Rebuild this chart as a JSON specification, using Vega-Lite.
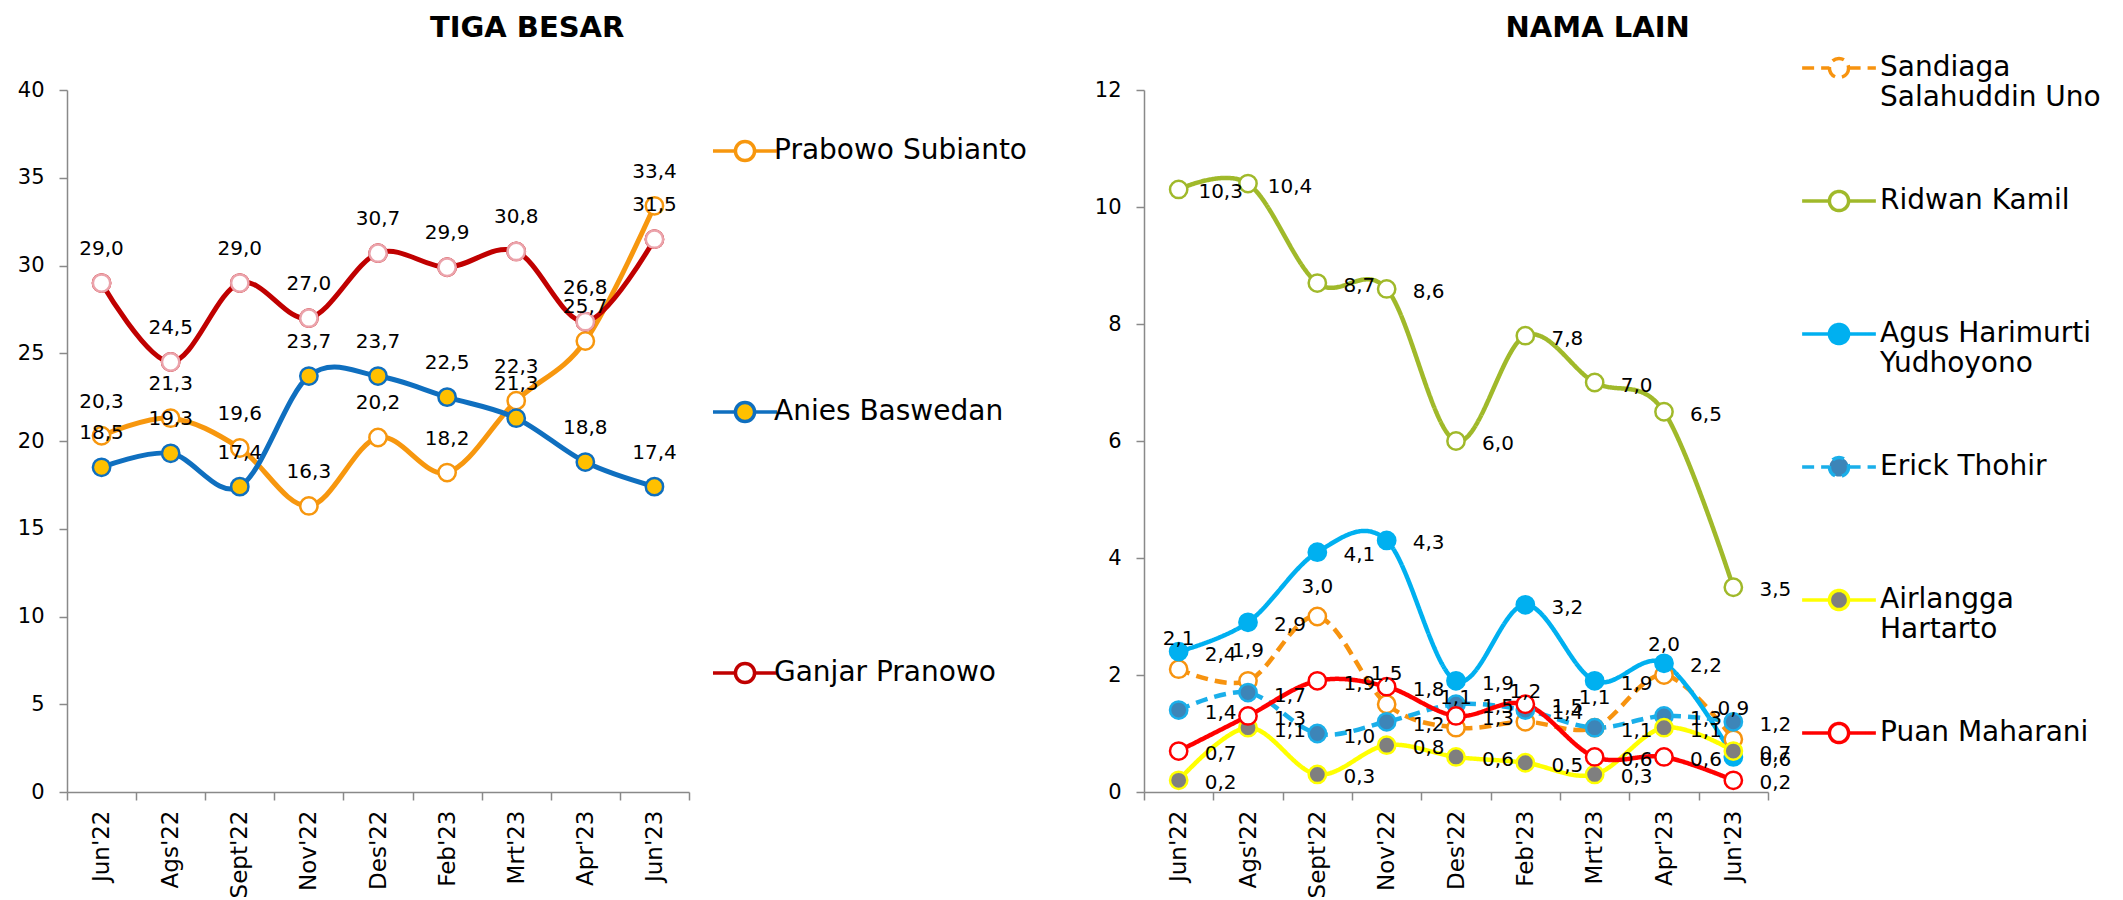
{
  "$schema": "https://vega.github.io/schema/vega-lite/v6.json",
  "background": "white",
  "padding": {"left": 17, "top": 14, "right": 5, "bottom": 0},
  "config": {
    "locale": {"number": {"decimal": ",", "thousands": ".", "grouping": [3], "currency": ["", ""]}},
    "view": {"stroke": null},
    "font": "DejaVu Sans",
    "axis": {"grid": false, "domainColor": "#898989", "tickColor": "#898989", "domainWidth": 1.5, "tickWidth": 1.5, "labelColor": "#000000", "labelFont": "DejaVu Sans", "title": null},
    "axisX": {"labelFontSize": 23, "labelAngle": -90, "tickSize": 8, "labelPadding": 10, "tickBand": "extent"},
    "axisY": {"labelFontSize": 21, "tickSize": 8, "labelPadding": 15},
    "legend": {"labelFont": "DejaVu Sans", "labelFontSize": 28, "labelColor": "#000000", "labelLimit": 500, "symbolSize": 4100, "symbolStrokeWidth": 3.5, "title": null},
    "title": {"fontSize": 29, "fontWeight": "bold", "font": "DejaVu Sans", "color": "#000000", "frame": "bounds", "anchor": "middle"}
  },
  "datasets": {
    "besar": [
      {"bulan": "Jun'22", "nama": "Prabowo Subianto", "nilai": 20.3},
      {"bulan": "Ags'22", "nama": "Prabowo Subianto", "nilai": 21.3},
      {"bulan": "Sept'22", "nama": "Prabowo Subianto", "nilai": 19.6},
      {"bulan": "Nov'22", "nama": "Prabowo Subianto", "nilai": 16.3},
      {"bulan": "Des'22", "nama": "Prabowo Subianto", "nilai": 20.2},
      {"bulan": "Feb'23", "nama": "Prabowo Subianto", "nilai": 18.2},
      {"bulan": "Mrt'23", "nama": "Prabowo Subianto", "nilai": 22.3},
      {"bulan": "Apr'23", "nama": "Prabowo Subianto", "nilai": 25.7},
      {"bulan": "Jun'23", "nama": "Prabowo Subianto", "nilai": 33.4},
      {"bulan": "Jun'22", "nama": "Anies Baswedan", "nilai": 18.5},
      {"bulan": "Ags'22", "nama": "Anies Baswedan", "nilai": 19.3},
      {"bulan": "Sept'22", "nama": "Anies Baswedan", "nilai": 17.4},
      {"bulan": "Nov'22", "nama": "Anies Baswedan", "nilai": 23.7},
      {"bulan": "Des'22", "nama": "Anies Baswedan", "nilai": 23.7},
      {"bulan": "Feb'23", "nama": "Anies Baswedan", "nilai": 22.5},
      {"bulan": "Mrt'23", "nama": "Anies Baswedan", "nilai": 21.3},
      {"bulan": "Apr'23", "nama": "Anies Baswedan", "nilai": 18.8},
      {"bulan": "Jun'23", "nama": "Anies Baswedan", "nilai": 17.4},
      {"bulan": "Jun'22", "nama": "Ganjar Pranowo", "nilai": 29.0},
      {"bulan": "Ags'22", "nama": "Ganjar Pranowo", "nilai": 24.5},
      {"bulan": "Sept'22", "nama": "Ganjar Pranowo", "nilai": 29.0},
      {"bulan": "Nov'22", "nama": "Ganjar Pranowo", "nilai": 27.0},
      {"bulan": "Des'22", "nama": "Ganjar Pranowo", "nilai": 30.7},
      {"bulan": "Feb'23", "nama": "Ganjar Pranowo", "nilai": 29.9},
      {"bulan": "Mrt'23", "nama": "Ganjar Pranowo", "nilai": 30.8},
      {"bulan": "Apr'23", "nama": "Ganjar Pranowo", "nilai": 26.8},
      {"bulan": "Jun'23", "nama": "Ganjar Pranowo", "nilai": 31.5}
    ],
    "lain": [
      {"bulan": "Jun'22", "nama": "Sandiaga Salahuddin Uno", "nilai": 2.1},
      {"bulan": "Ags'22", "nama": "Sandiaga Salahuddin Uno", "nilai": 1.9},
      {"bulan": "Sept'22", "nama": "Sandiaga Salahuddin Uno", "nilai": 3.0},
      {"bulan": "Nov'22", "nama": "Sandiaga Salahuddin Uno", "nilai": 1.5},
      {"bulan": "Des'22", "nama": "Sandiaga Salahuddin Uno", "nilai": 1.1},
      {"bulan": "Feb'23", "nama": "Sandiaga Salahuddin Uno", "nilai": 1.2},
      {"bulan": "Mrt'23", "nama": "Sandiaga Salahuddin Uno", "nilai": 1.1},
      {"bulan": "Apr'23", "nama": "Sandiaga Salahuddin Uno", "nilai": 2.0},
      {"bulan": "Jun'23", "nama": "Sandiaga Salahuddin Uno", "nilai": 0.9},
      {"bulan": "Jun'22", "nama": "Ridwan Kamil", "nilai": 10.3},
      {"bulan": "Ags'22", "nama": "Ridwan Kamil", "nilai": 10.4},
      {"bulan": "Sept'22", "nama": "Ridwan Kamil", "nilai": 8.7},
      {"bulan": "Nov'22", "nama": "Ridwan Kamil", "nilai": 8.6},
      {"bulan": "Des'22", "nama": "Ridwan Kamil", "nilai": 6.0},
      {"bulan": "Feb'23", "nama": "Ridwan Kamil", "nilai": 7.8},
      {"bulan": "Mrt'23", "nama": "Ridwan Kamil", "nilai": 7.0},
      {"bulan": "Apr'23", "nama": "Ridwan Kamil", "nilai": 6.5},
      {"bulan": "Jun'23", "nama": "Ridwan Kamil", "nilai": 3.5},
      {"bulan": "Jun'22", "nama": "Agus Harimurti Yudhoyono", "nilai": 2.4},
      {"bulan": "Ags'22", "nama": "Agus Harimurti Yudhoyono", "nilai": 2.9},
      {"bulan": "Sept'22", "nama": "Agus Harimurti Yudhoyono", "nilai": 4.1},
      {"bulan": "Nov'22", "nama": "Agus Harimurti Yudhoyono", "nilai": 4.3},
      {"bulan": "Des'22", "nama": "Agus Harimurti Yudhoyono", "nilai": 1.9},
      {"bulan": "Feb'23", "nama": "Agus Harimurti Yudhoyono", "nilai": 3.2},
      {"bulan": "Mrt'23", "nama": "Agus Harimurti Yudhoyono", "nilai": 1.9},
      {"bulan": "Apr'23", "nama": "Agus Harimurti Yudhoyono", "nilai": 2.2},
      {"bulan": "Jun'23", "nama": "Agus Harimurti Yudhoyono", "nilai": 0.6},
      {"bulan": "Jun'22", "nama": "Erick Thohir", "nilai": 1.4},
      {"bulan": "Ags'22", "nama": "Erick Thohir", "nilai": 1.7},
      {"bulan": "Sept'22", "nama": "Erick Thohir", "nilai": 1.0},
      {"bulan": "Nov'22", "nama": "Erick Thohir", "nilai": 1.2},
      {"bulan": "Des'22", "nama": "Erick Thohir", "nilai": 1.5},
      {"bulan": "Feb'23", "nama": "Erick Thohir", "nilai": 1.4},
      {"bulan": "Mrt'23", "nama": "Erick Thohir", "nilai": 1.1},
      {"bulan": "Apr'23", "nama": "Erick Thohir", "nilai": 1.3},
      {"bulan": "Jun'23", "nama": "Erick Thohir", "nilai": 1.2},
      {"bulan": "Jun'22", "nama": "Airlangga Hartarto", "nilai": 0.2},
      {"bulan": "Ags'22", "nama": "Airlangga Hartarto", "nilai": 1.1},
      {"bulan": "Sept'22", "nama": "Airlangga Hartarto", "nilai": 0.3},
      {"bulan": "Nov'22", "nama": "Airlangga Hartarto", "nilai": 0.8},
      {"bulan": "Des'22", "nama": "Airlangga Hartarto", "nilai": 0.6},
      {"bulan": "Feb'23", "nama": "Airlangga Hartarto", "nilai": 0.5},
      {"bulan": "Mrt'23", "nama": "Airlangga Hartarto", "nilai": 0.3},
      {"bulan": "Apr'23", "nama": "Airlangga Hartarto", "nilai": 1.1},
      {"bulan": "Jun'23", "nama": "Airlangga Hartarto", "nilai": 0.7},
      {"bulan": "Jun'22", "nama": "Puan Maharani", "nilai": 0.7},
      {"bulan": "Ags'22", "nama": "Puan Maharani", "nilai": 1.3},
      {"bulan": "Sept'22", "nama": "Puan Maharani", "nilai": 1.9},
      {"bulan": "Nov'22", "nama": "Puan Maharani", "nilai": 1.8},
      {"bulan": "Des'22", "nama": "Puan Maharani", "nilai": 1.3},
      {"bulan": "Feb'23", "nama": "Puan Maharani", "nilai": 1.5},
      {"bulan": "Mrt'23", "nama": "Puan Maharani", "nilai": 0.6},
      {"bulan": "Apr'23", "nama": "Puan Maharani", "nilai": 0.6},
      {"bulan": "Jun'23", "nama": "Puan Maharani", "nilai": 0.2}
    ]
  },
  "spacing": 67,
  "resolve": {
    "scale": {"stroke": "independent", "fill": "independent", "strokeDash": "independent"},
    "legend": {"stroke": "independent", "fill": "independent", "strokeDash": "independent"}
  },
  "hconcat": [
    {
      "title": {"text": "TIGA BESAR", "offset": 36, "dx": 5},
      "width": 622,
      "height": 702,
      "data": {"name": "besar"},
      "encoding": {
        "x": {"field": "bulan", "type": "ordinal", "sort": ["Jun'22", "Ags'22", "Sept'22", "Nov'22", "Des'22", "Feb'23", "Mrt'23", "Apr'23", "Jun'23"], "scale": {"type": "band", "paddingInner": 0, "paddingOuter": 0}, "bandPosition": 0.5},
        "y": {"field": "nilai", "type": "quantitative", "scale": {"domain": [0, 40]}, "axis": {"values": [0, 5, 10, 15, 20, 25, 30, 35, 40]}}
      },
      "layer": [
        {
          "mark": {"type": "line", "interpolate": "cardinal", "strokeWidth": 5},
          "encoding": {
            "stroke": {"field": "nama", "type": "nominal", "scale": {"domain": ["Prabowo Subianto", "Anies Baswedan", "Ganjar Pranowo"], "range": ["#F7970E", "#0F6FBF", "#C00000"]}, "legend": {"orient": "none", "legendX": 644, "legendY": 27, "rowPadding": 210, "labelOffset": -5, "symbolType": "M-1,0H-0.3M0.3,0H1M0.3,0A0.3,0.3,0,1,1,-0.3,0A0.3,0.3,0,1,1,0.3,0Z"}}
          }
        },
        {
          "mark": {"type": "point", "shape": "circle", "filled": true, "size": 300, "strokeWidth": 2.5, "opacity": 1},
          "encoding": {
            "stroke": {"field": "nama", "type": "nominal"},
            "fill": {"field": "nama", "type": "nominal", "scale": {"domain": ["Prabowo Subianto", "Anies Baswedan", "Ganjar Pranowo"], "range": ["#FFFFFF", "#FFC000", "#FFFFFF"]}, "legend": {"orient": "none", "legendX": 644, "legendY": 27, "rowPadding": 210, "labelOffset": -5, "symbolType": "M-1,0H-0.3M0.3,0H1M0.3,0A0.3,0.3,0,1,1,-0.3,0A0.3,0.3,0,1,1,0.3,0Z"}}
          }
        },
        {
          "transform": [{"filter": "datum.nama === 'Ganjar Pranowo'"}],
          "mark": {"type": "point", "shape": "circle", "filled": true, "size": 300, "strokeWidth": 2.5, "fill": "#FFFFFF", "stroke": "#EBA3AB", "opacity": 1}
        },
        {
          "mark": {"type": "text", "dy": -34, "fontSize": 20, "color": "#000000"},
          "encoding": {"text": {"field": "nilai", "type": "quantitative", "format": ".1f"}}
        }
      ]
    },
    {
      "title": {"text": "NAMA LAIN", "offset": -14, "dx": 0},
      "width": 624,
      "height": 702,
      "data": {"name": "lain"},
      "encoding": {
        "x": {"field": "bulan", "type": "ordinal", "sort": ["Jun'22", "Ags'22", "Sept'22", "Nov'22", "Des'22", "Feb'23", "Mrt'23", "Apr'23", "Jun'23"], "scale": {"type": "band", "paddingInner": 0, "paddingOuter": 0}, "bandPosition": 0.5},
        "y": {"field": "nilai", "type": "quantitative", "scale": {"domain": [0, 12]}, "axis": {"values": [0, 2, 4, 6, 8, 10, 12]}}
      },
      "layer": [
        {
          "mark": {"type": "line", "interpolate": "cardinal", "strokeWidth": 4.5},
          "encoding": {
            "stroke": {"field": "nama", "type": "nominal", "scale": {"domain": ["Sandiaga Salahuddin Uno", "Ridwan Kamil", "Agus Harimurti Yudhoyono", "Erick Thohir", "Airlangga Hartarto", "Puan Maharani"], "range": ["#F7930F", "#A0B92A", "#00B0F0", "#1AAFEA", "#FFFF00", "#FF0000"]}, "legend": {"orient": "none", "legendX": 656, "legendY": -61, "rowPadding": 50, "labelOffset": 2, "symbolSize": 5436, "symbolType": "M-1,0H-0.26M0.26,0H1M0.26,0A0.26,0.26,0,1,1,-0.26,0A0.26,0.26,0,1,1,0.26,0Z", "labelExpr": "datum.label == 'Sandiaga Salahuddin Uno' ? ['Sandiaga', 'Salahuddin Uno'] : datum.label == 'Agus Harimurti Yudhoyono' ? ['Agus Harimurti', 'Yudhoyono'] : datum.label == 'Airlangga Hartarto' ? ['Airlangga', 'Hartarto'] : [datum.label, ' ']"}},
            "strokeDash": {"field": "nama", "type": "nominal", "scale": {"domain": ["Sandiaga Salahuddin Uno", "Ridwan Kamil", "Agus Harimurti Yudhoyono", "Erick Thohir", "Airlangga Hartarto", "Puan Maharani"], "range": [[12, 7], [1, 0], [1, 0], [12, 7], [1, 0], [1, 0]]}, "legend": {"orient": "none", "legendX": 656, "legendY": -61, "rowPadding": 50, "labelOffset": 2, "symbolSize": 5436, "symbolType": "M-1,0H-0.26M0.26,0H1M0.26,0A0.26,0.26,0,1,1,-0.26,0A0.26,0.26,0,1,1,0.26,0Z", "labelExpr": "datum.label == 'Sandiaga Salahuddin Uno' ? ['Sandiaga', 'Salahuddin Uno'] : datum.label == 'Agus Harimurti Yudhoyono' ? ['Agus Harimurti', 'Yudhoyono'] : datum.label == 'Airlangga Hartarto' ? ['Airlangga', 'Hartarto'] : [datum.label, ' ']"}}
          }
        },
        {
          "mark": {"type": "point", "shape": "circle", "filled": true, "size": 300, "strokeWidth": 2.5, "opacity": 1},
          "encoding": {
            "stroke": {"field": "nama", "type": "nominal"},
            "fill": {"field": "nama", "type": "nominal", "scale": {"domain": ["Sandiaga Salahuddin Uno", "Ridwan Kamil", "Agus Harimurti Yudhoyono", "Erick Thohir", "Airlangga Hartarto", "Puan Maharani"], "range": ["#FFFFFF", "#FFFFFF", "#00B0F0", "#3D85B8", "#7F7F7F", "#FFFFFF"]}, "legend": {"orient": "none", "legendX": 656, "legendY": -61, "rowPadding": 50, "labelOffset": 2, "symbolSize": 5436, "symbolType": "M-1,0H-0.26M0.26,0H1M0.26,0A0.26,0.26,0,1,1,-0.26,0A0.26,0.26,0,1,1,0.26,0Z", "labelExpr": "datum.label == 'Sandiaga Salahuddin Uno' ? ['Sandiaga', 'Salahuddin Uno'] : datum.label == 'Agus Harimurti Yudhoyono' ? ['Agus Harimurti', 'Yudhoyono'] : datum.label == 'Airlangga Hartarto' ? ['Airlangga', 'Hartarto'] : [datum.label, ' ']"}}
          }
        },
        {
          "transform": [{"filter": "datum.nama === 'Sandiaga Salahuddin Uno'"}],
          "mark": {"type": "text", "dy": -30, "fontSize": 20, "color": "#000000"},
          "encoding": {"text": {"field": "nilai", "type": "quantitative", "format": ".1f"}}
        },
        {
          "transform": [{"filter": "datum.nama !== 'Sandiaga Salahuddin Uno'"}],
          "mark": {"type": "text", "dx": 42, "dy": 3, "fontSize": 20, "color": "#000000"},
          "encoding": {"text": {"field": "nilai", "type": "quantitative", "format": ".1f"}}
        }
      ]
    }
  ]
}
